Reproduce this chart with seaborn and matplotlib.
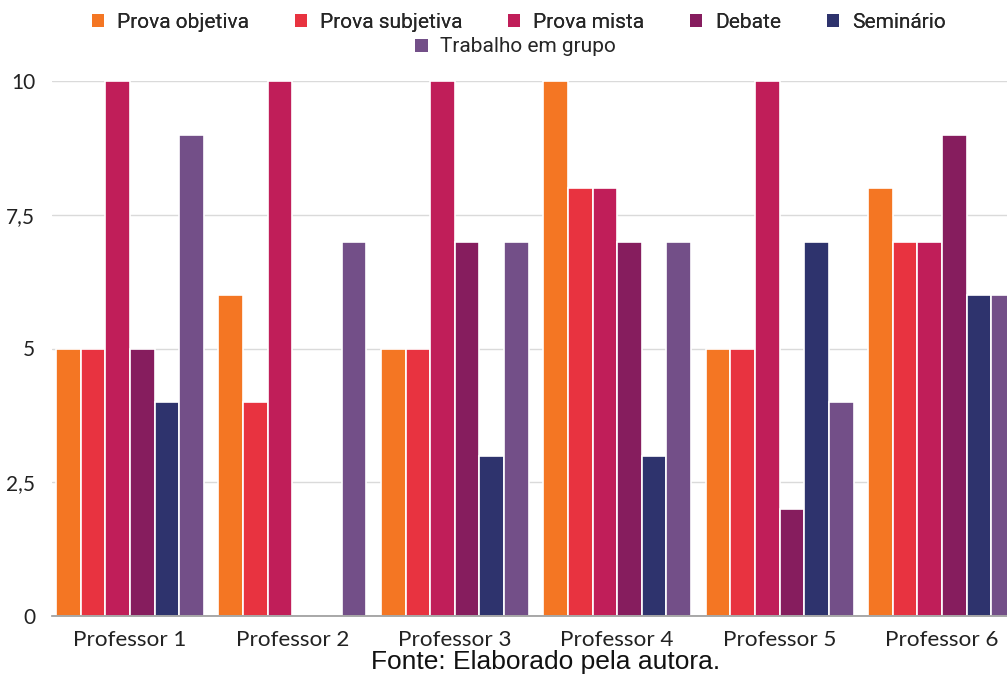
import matplotlib
matplotlib.use("Agg")
import matplotlib.pyplot as plt
import seaborn as sns
import pandas as pd
from matplotlib.patches import Patch

professores = ["Professor 1", "Professor 2", "Professor 3", "Professor 4", "Professor 5", "Professor 6"]
avaliacoes = ["Prova objetiva", "Prova subjetiva", "Prova mista", "Debate", "Seminário", "Trabalho em grupo"]

prova_objetiva = [5, 6, 5, 10, 5, 8]
prova_subjetiva = [5, 4, 5, 8, 5, 7]
prova_mista = [10, 10, 10, 8, 10, 7]
debate = [5, 0, 7, 7, 2, 9]
seminario = [4, 0, 3, 3, 7, 6]
trabalho_grupo = [9, 7, 7, 7, 4, 6]

cores = ["#F47623", "#E83340", "#C01E59", "#861D5E", "#2E336D", "#734F88"]
yticks = [0, 2.5, 5, 7.5, 10]
ytick_labels = ["0", "2,5", "5", "7,5", "10"]

series = [prova_objetiva, prova_subjetiva, prova_mista, debate, seminario, trabalho_grupo]
df = pd.DataFrame(
    [(p, a, v) for a, vals in zip(avaliacoes, series) for p, v in zip(professores, vals)],
    columns=["professor", "avaliacao", "nota"],
)

sns.set_theme(style="white")
plt.rcParams["font.family"] = ["Lato", "DejaVu Sans"]

fig = plt.figure(figsize=(10.07, 6.77), dpi=100)
ax = fig.add_axes([52 / 1007, 1 - 616 / 677, 1 - 52 / 1007, (616 - 81) / 677])

sns.barplot(
    data=df, x="professor", y="nota", hue="avaliacao",
    hue_order=avaliacoes, order=professores, palette=cores, saturation=1,
    width=0.91, edgecolor="white", linewidth=1.2, legend=False, ax=ax,
    err_kws={"linewidth": 0},
)

ax.set_ylim(0, 10)
ax.set_xlim(-0.48, 5.40)
ax.set_yticks(yticks)
ax.set_yticklabels(ytick_labels, fontsize=15, color="#222222")
ax.yaxis.grid(True, color="#DADADA", linewidth=1)
ax.set_axisbelow(True)
ax.tick_params(axis="x", labelsize=16.2, colors="#222222", length=0, pad=10)
ax.tick_params(axis="y", length=0, pad=12)
ax.set_xlabel("")
ax.set_ylabel("")
for s in ["top", "right", "left"]:
    ax.spines[s].set_visible(False)
ax.spines["bottom"].set_color("#999999")
ax.spines["bottom"].set_linewidth(1.2)
for p in ax.patches:
    if p.get_x() + p.get_width() < 5.40:
        p.set_clip_on(False)

handles = [Patch(facecolor=c, edgecolor="none") for c in cores]
leg_font = {"family": ["Roboto", "DejaVu Sans"], "size": 15}
leg1 = fig.legend(handles[:5], avaliacoes[:5], loc="center", bbox_to_anchor=(0.515, 1 - 22 / 677),
                  ncol=5, frameon=False, prop=leg_font, handlelength=0.6, handleheight=0.6,
                  handletextpad=0.6, columnspacing=2.2, borderpad=0)
fig.add_artist(leg1)
fig.legend(handles[5:], avaliacoes[5:], loc="center", bbox_to_anchor=(0.512, 1 - 47 / 677),
           ncol=1, frameon=False, prop=leg_font, handlelength=0.6, handleheight=0.6,
           handletextpad=0.6, borderpad=0)

fig.text(546 / 1007, 1 - 662 / 677, "Fonte: Elaborado pela autora.", ha="center", va="center",
         fontsize=19, family=["Liberation Sans", "DejaVu Sans"], color="#111111")

fig.savefig("out.png", dpi=100)
